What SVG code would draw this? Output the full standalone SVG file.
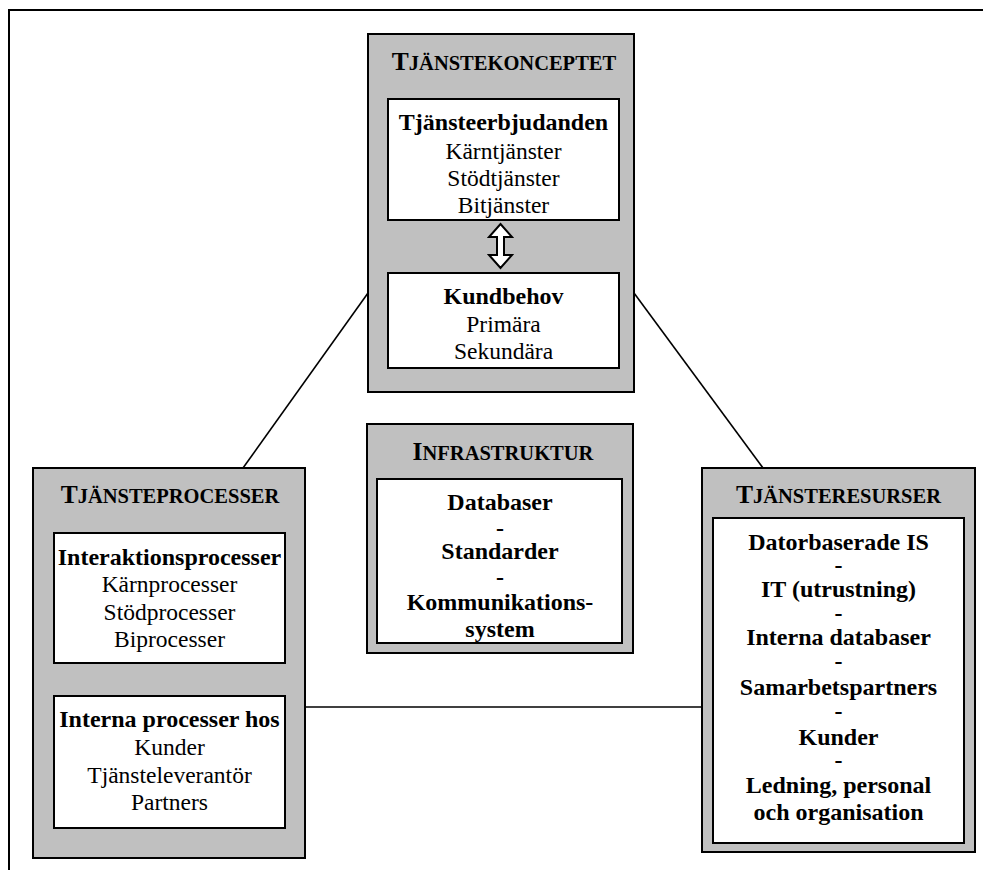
<svg xmlns="http://www.w3.org/2000/svg" width="983" height="870" viewBox="0 0 983 870">
  <style>
    .frame { fill: none; stroke: #000; stroke-width: 2; }
    .panel { fill: #c0c0c0; stroke: #000; stroke-width: 2; }
    .card { fill: #fff; stroke: #000; stroke-width: 2; }
    .link { fill: none; stroke: #000; stroke-width: 1.6; }
    text { font-family: "Liberation Serif", "Times New Roman", serif; fill: #000; text-anchor: middle; }
    .head { font-weight: bold; }
    .cap { font-size: 25.5px; }
    .sc { font-size: 20.5px; }
    .b { font-weight: bold; font-size: 24px; }
    .r { font-size: 23.5px; }
  </style>

  <!-- page border: top and left edge only -->
  <path class="frame" d="M9,870 V10 H983"/>

  <!-- connectors between the three corner panels -->
  <g id="connectors">
    <line class="link" x1="368" y1="293" x2="243" y2="468"/>
    <line class="link" x1="634" y1="293" x2="763" y2="468"/>
    <line class="link" x1="305" y1="707" x2="702" y2="707"/>
  </g>

  <!-- top panel -->
  <g id="tjanstekonceptet">
    <rect class="panel" x="368" y="34" width="266" height="358"/>
    <text class="head" x="504" y="70"><tspan class="cap">T</tspan><tspan class="sc">JÄNSTEKONCEPTET</tspan></text>
    <g id="tjansteerbjudanden">
      <rect class="card" x="388" y="99" width="231" height="121"/>
      <text x="503.5" y="130" class="b">Tjänsteerbjudanden</text>
      <text x="503.5" y="159" class="r">Kärntjänster</text>
      <text x="503.5" y="186" class="r">Stödtjänster</text>
      <text x="503.5" y="213" class="r">Bitjänster</text>
    </g>
    <!-- hollow double-headed arrow -->
    <path class="card" stroke-width="1.6" d="M500.5,224 L512,237 L504,237 L504,255 L512,255 L500.5,268 L489,255 L497,255 L497,237 L489,237 Z"/>
    <g id="kundbehov">
      <rect class="card" x="388" y="273" width="231" height="95"/>
      <text x="503.5" y="304" class="b">Kundbehov</text>
      <text x="503.5" y="332" class="r">Primära</text>
      <text x="503.5" y="359" class="r">Sekundära</text>
    </g>
  </g>

  <!-- centre panel -->
  <g id="infrastruktur">
    <rect class="panel" x="367" y="424" width="266" height="229"/>
    <text class="head" x="503" y="460"><tspan class="cap">I</tspan><tspan class="sc">NFRASTRUKTUR</tspan></text>
    <rect class="card" x="377" y="479" width="245" height="164"/>
    <text x="500" y="510" class="b">Databaser</text>
    <text x="500" y="536" class="b">-</text>
    <text x="500" y="559" class="b">Standarder</text>
    <text x="500" y="585" class="b">-</text>
    <text x="500" y="610" class="b">Kommunikations-</text>
    <text x="500" y="637" class="b">system</text>
  </g>

  <!-- left panel -->
  <g id="tjansteprocesser">
    <rect class="panel" x="33" y="468" width="272" height="390"/>
    <text class="head" x="170" y="503"><tspan class="cap">T</tspan><tspan class="sc">JÄNSTEPROCESSER</tspan></text>
    <g id="interaktionsprocesser">
      <rect class="card" x="54" y="533" width="231" height="130"/>
      <text x="169.5" y="565" class="b">Interaktionsprocesser</text>
      <text x="169.5" y="592" class="r">Kärnprocesser</text>
      <text x="169.5" y="620" class="r">Stödprocesser</text>
      <text x="169.5" y="647" class="r">Biprocesser</text>
    </g>
    <g id="interna-processer">
      <rect class="card" x="54" y="696" width="231" height="132"/>
      <text x="169.5" y="727" class="b">Interna processer hos</text>
      <text x="169.5" y="755" class="r">Kunder</text>
      <text x="169.5" y="783" class="r">Tjänsteleverantör</text>
      <text x="169.5" y="810" class="r">Partners</text>
    </g>
  </g>

  <!-- right panel -->
  <g id="tjansteresurser">
    <rect class="panel" x="702" y="468" width="273" height="384"/>
    <text class="head" x="838.5" y="503"><tspan class="cap">T</tspan><tspan class="sc">JÄNSTERESURSER</tspan></text>
    <rect class="card" x="713" y="518" width="251" height="325"/>
    <text x="838.5" y="550" class="b">Datorbaserade IS</text>
    <text x="838.5" y="573" class="b">-</text>
    <text x="838.5" y="597" class="b">IT (utrustning)</text>
    <text x="838.5" y="621" class="b">-</text>
    <text x="838.5" y="645" class="b">Interna databaser</text>
    <text x="838.5" y="669" class="b">-</text>
    <text x="838.5" y="695" class="b">Samarbetspartners</text>
    <text x="838.5" y="719" class="b">-</text>
    <text x="838.5" y="745" class="b">Kunder</text>
    <text x="838.5" y="768" class="b">-</text>
    <text x="838.5" y="793" class="b">Ledning, personal</text>
    <text x="838.5" y="820" class="b">och organisation</text>
  </g>
</svg>
